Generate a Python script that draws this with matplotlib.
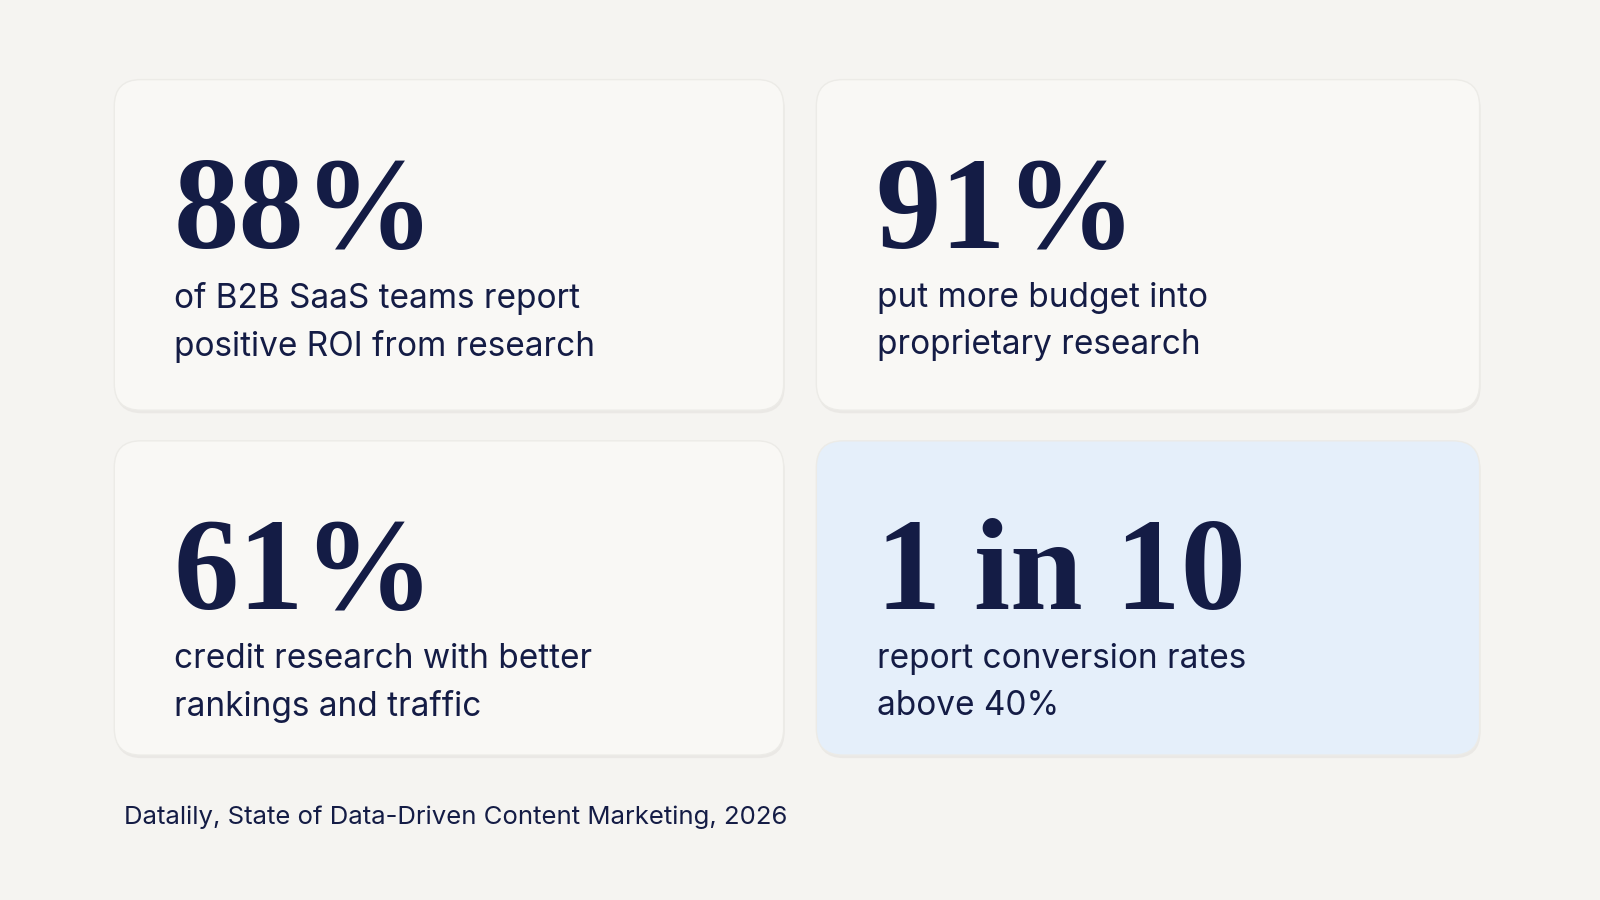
import matplotlib
matplotlib.use("Agg")
import matplotlib.pyplot as plt
from matplotlib.patches import FancyBboxPatch

stats = ["88%", "91%", "61%", "1 in 10"]
captions = ["of B2B SaaS teams report\npositive ROI from research",
            "put more budget into\nproprietary research",
            "credit research with better\nrankings and traffic",
            "report conversion rates\nabove 40%"]
highlight = [False, False, False, True]
source = "Datalily, State of Data-Driven Content Marketing, 2026"

W, H = 1568, 882
fig = plt.figure(figsize=(16, 9), dpi=100)
fig.patch.set_facecolor("#f5f4f1")
ax = fig.add_axes([0, 0, 1, 1])
ax.set_xlim(0, W); ax.set_ylim(H, 0); ax.axis("off")

navy = "#141c45"
boxes = [(112, 78, 656, 324), (800, 78, 650, 324), (112, 432, 656, 308), (800, 432, 650, 308)]
for (x, y, w, h), s, c, hl in zip(boxes, stats, captions, highlight):
    ax.add_patch(FancyBboxPatch((x + 1, y + 3), w, h, boxstyle="round,pad=0,rounding_size=26",
                                fc="#e6e4e0", ec="none", alpha=0.7))
    ax.add_patch(FancyBboxPatch((x, y), w, h, boxstyle="round,pad=0,rounding_size=26",
                                fc="#e5effa" if hl else "#f9f8f5", ec="#ecebe7", lw=1))
    ax.text(x + 58, y + 165, s, fontsize=94, fontweight="bold", family="Liberation Serif",
            color=navy, va="baseline", ha="left")
    ax.text(x + 59, y + 198, c, fontsize=24, family="Inter", color=navy, va="top",
            ha="left", linespacing=1.6)

ax.text(122, 801, source, fontsize=18.5, family="Inter", color=navy, va="center", ha="left")
fig.savefig("out.png", dpi=100, facecolor=fig.get_facecolor())
